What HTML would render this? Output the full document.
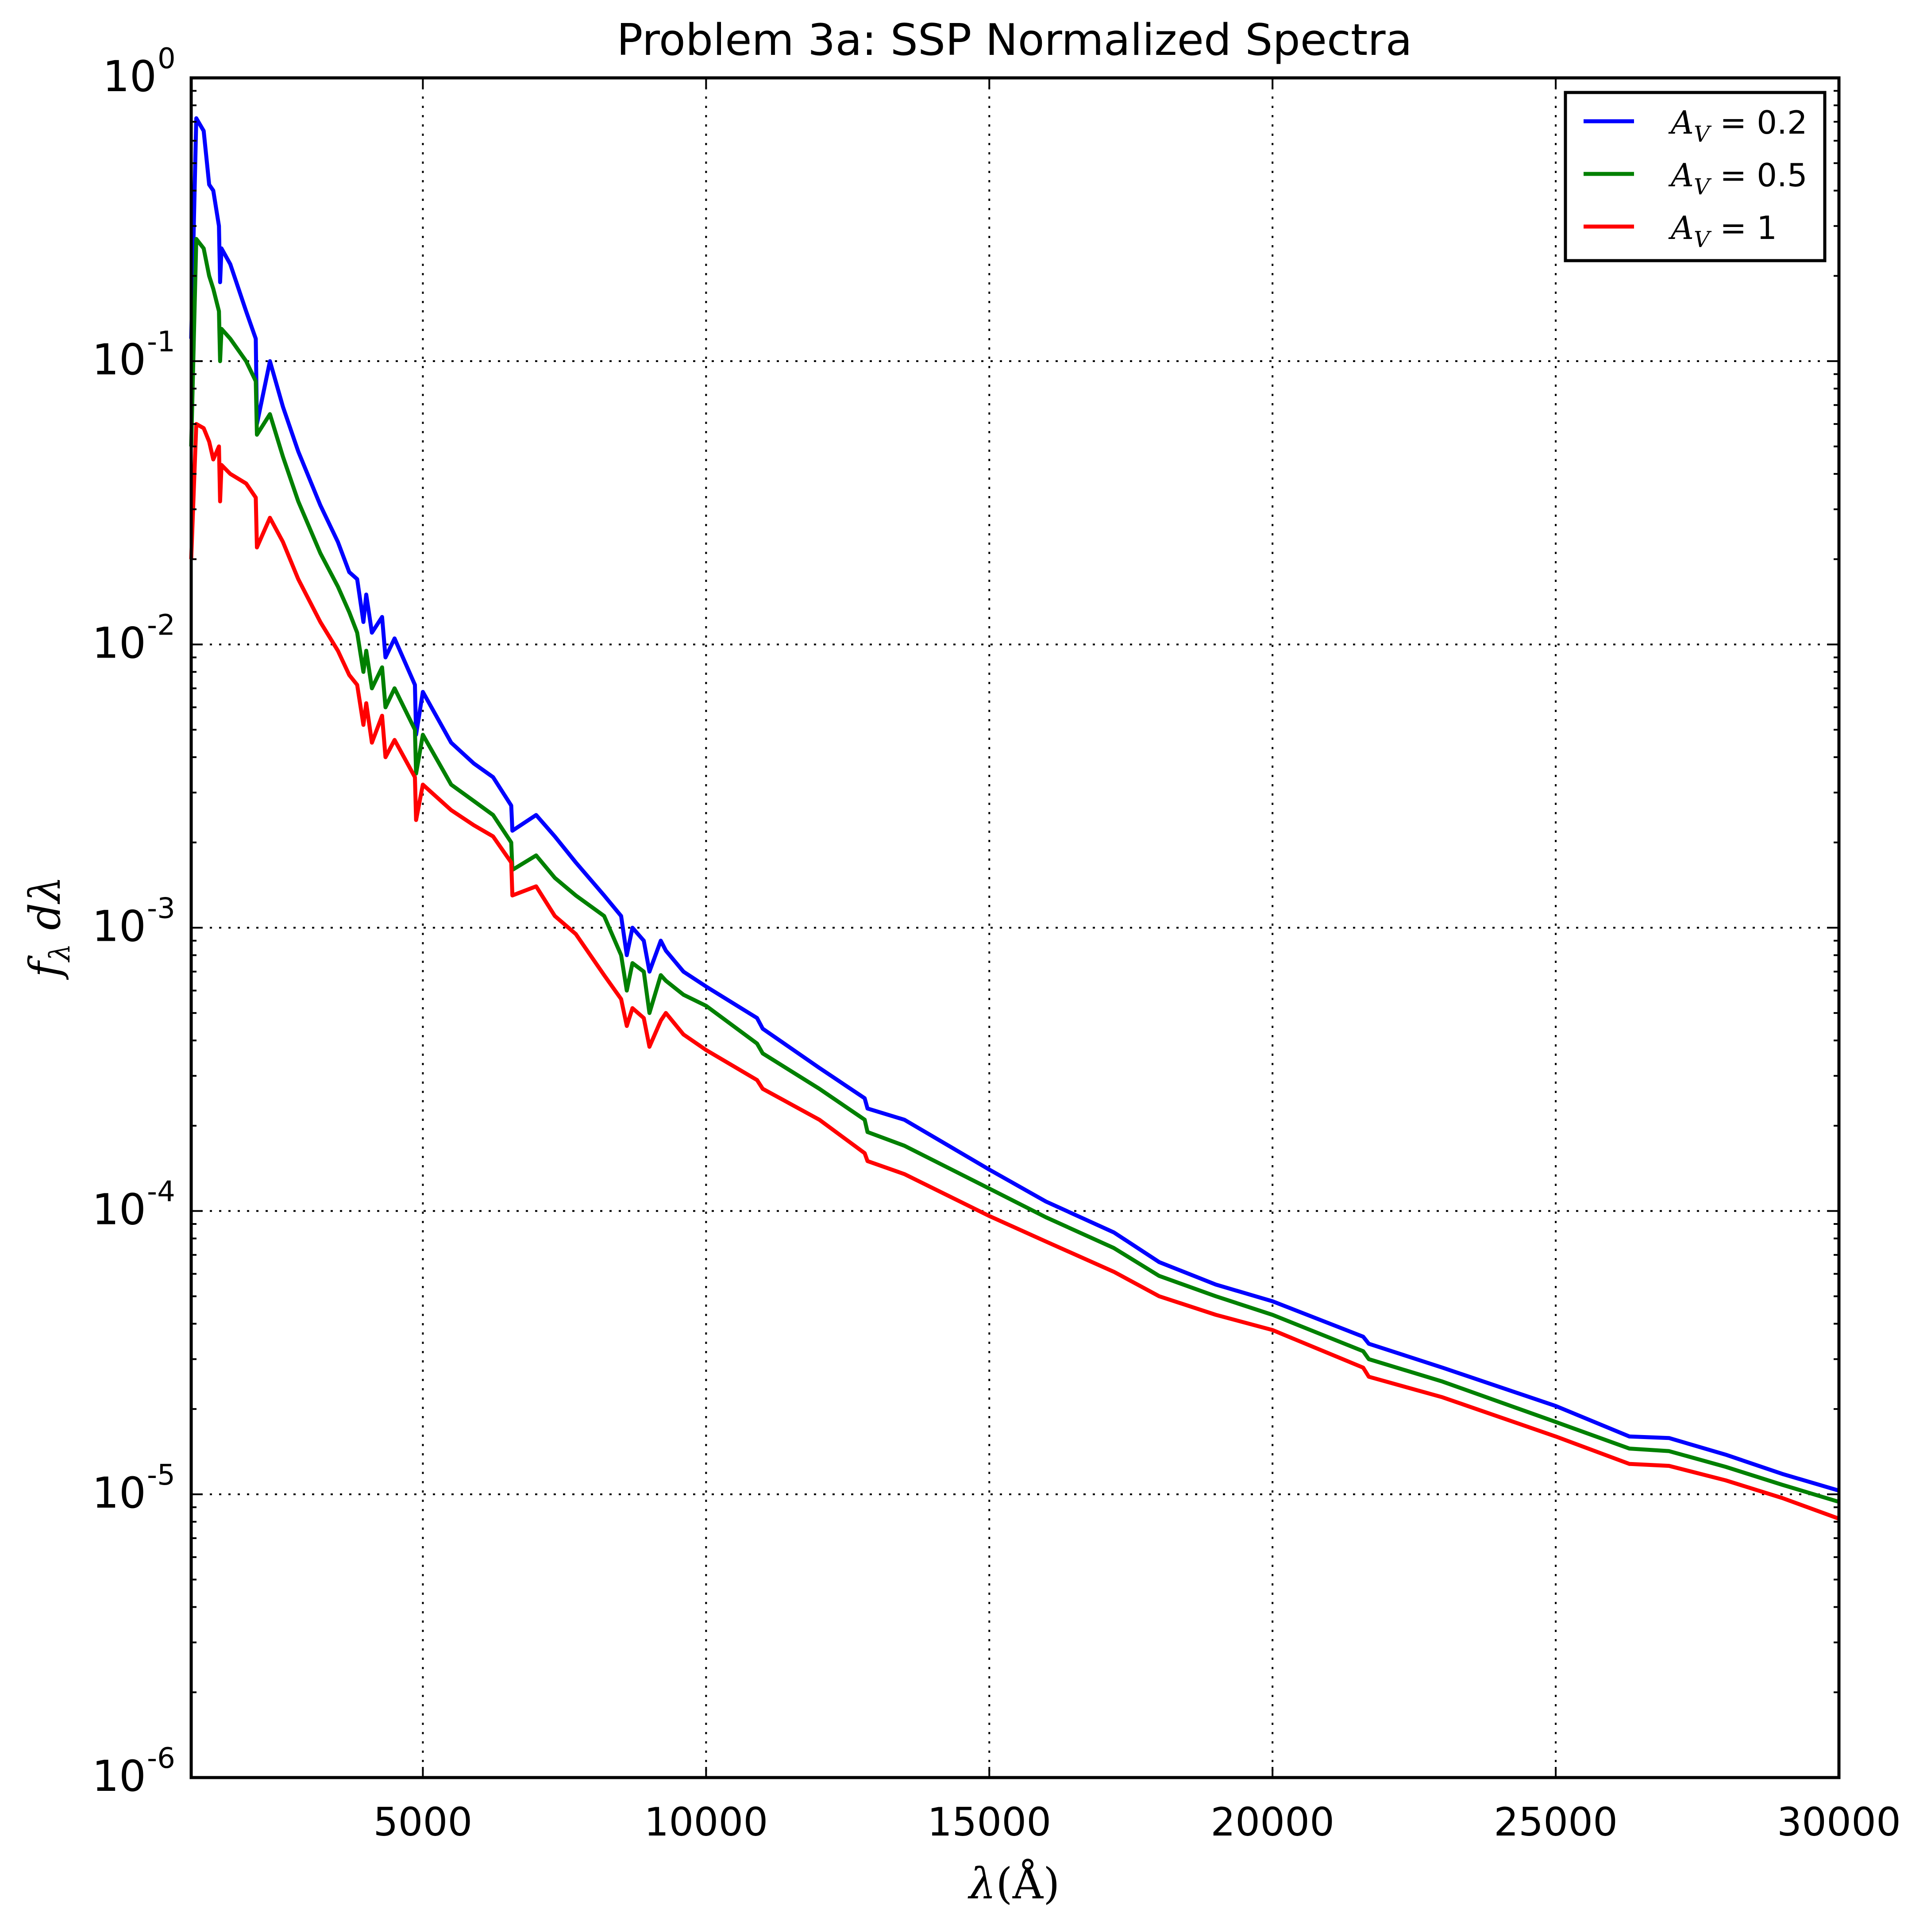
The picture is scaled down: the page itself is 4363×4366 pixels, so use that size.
<!DOCTYPE html>
<html><head><meta charset="utf-8"><style>
html,body{margin:0;padding:0;background:#fff;}
svg{display:block;font-family:"DejaVu Sans","Liberation Sans",sans-serif;}
</style></head><body>
<svg id="chart" width="4363" height="4366" viewBox="0 0 4363 4366" xmlns="http://www.w3.org/2000/svg">
<rect width="4363" height="4366" fill="#fff"/>
<text x="2292" y="124" font-size="98" text-anchor="middle">Problem 3a: SSP Normalized Spectra</text>
<g id="grid"></g>
<g id="series"></g>
<g id="axes"></g>
<text x="2292" y="4290" font-size="96" text-anchor="middle" font-family="'DejaVu Serif','Liberation Serif',serif"><tspan font-style="italic">λ</tspan>(Å)</text>
<text transform="translate(135,2094) rotate(-90)" font-size="96" text-anchor="middle" font-family="'DejaVu Serif','Liberation Serif',serif" font-style="italic">f<tspan font-size="64" dy="22">λ</tspan><tspan dy="-22"> dλ</tspan></text>
<g>
<rect x="3537" y="209" width="586" height="380" fill="#fff" stroke="#000" stroke-width="7"/>
<line x1="3578" y1="274" x2="3692" y2="274" stroke="#0000ff" stroke-width="9"/>
<line x1="3578" y1="393" x2="3692" y2="393" stroke="#008000" stroke-width="9"/>
<line x1="3578" y1="512" x2="3692" y2="512" stroke="#ff0000" stroke-width="9"/>
<text x="3775" y="302" font-size="72"><tspan font-family="'DejaVu Serif',serif" font-style="italic">A</tspan><tspan font-family="'DejaVu Serif',serif" font-style="italic" font-size="50" dy="18">V</tspan><tspan dy="-18"> = 0.2</tspan></text>
<text x="3775" y="421" font-size="72"><tspan font-family="'DejaVu Serif',serif" font-style="italic">A</tspan><tspan font-family="'DejaVu Serif',serif" font-style="italic" font-size="50" dy="18">V</tspan><tspan dy="-18"> = 0.5</tspan></text>
<text x="3775" y="540" font-size="72"><tspan font-family="'DejaVu Serif',serif" font-style="italic">A</tspan><tspan font-family="'DejaVu Serif',serif" font-style="italic" font-size="50" dy="18">V</tspan><tspan dy="-18"> = 1</tspan></text>
</g>
</svg>
<script>
const xTicks = [5000, 10000, 15000, 20000, 25000, 30000];
const yDecades = [0, -1, -2, -3, -4, -5, -6];
const wavelengths = [910,1000,1130,1227,1300,1400,1420,1445,1600,1880,2050,2070,2300,2530,2800,3190,3500,3700,3840,3950,4000,4100,4280,4340,4500,4860,4880,5000,5500,5900,6240,6560,6580,7000,7330,7700,8200,8500,8600,8700,8900,9000,9200,9290,9600,10000,10900,11000,12000,12800,12850,13500,15000,16000,17200,18000,19000,20000,21600,21700,23000,25000,26300,27000,28000,29000,30000];
const fluxAv02 = [0.12,0.72,0.65,0.42,0.40,0.30,0.19,0.25,0.22,0.15,0.12,0.06,0.10,0.069,0.048,0.031,0.023,0.018,0.017,0.012,0.015,0.011,0.0125,0.009,0.0105,0.0072,0.0048,0.0068,0.0045,0.0038,0.0034,0.0027,0.0022,0.0025,0.0021,0.0017,0.0013,0.0011,0.0008,0.001,0.0009,0.0007,0.0009,0.00083,0.0007,0.00062,0.00048,0.00044,0.00032,0.00025,0.00023,0.00021,0.00014,0.000108,0.000084,0.000066,0.000055,0.000048,0.000036,0.000034,0.000028,0.0000205,0.000016,0.0000158,0.0000138,0.0000118,0.0000103];
const fluxAv05 = [0.05,0.27,0.25,0.20,0.18,0.15,0.10,0.13,0.12,0.10,0.085,0.055,0.065,0.046,0.032,0.021,0.016,0.013,0.011,0.008,0.0095,0.007,0.0083,0.006,0.007,0.0050,0.0035,0.0048,0.0032,0.0028,0.0025,0.0020,0.0016,0.0018,0.0015,0.0013,0.0011,0.0008,0.0006,0.00075,0.0007,0.0005,0.00068,0.00065,0.00058,0.00053,0.00039,0.00036,0.00027,0.00021,0.00019,0.00017,0.00012,0.000095,0.000074,0.000059,0.00005,0.000043,0.000032,0.00003,0.000025,0.000018,0.0000145,0.0000142,0.0000125,0.0000108,0.0000094];
const fluxAv1 = [0.02,0.06,0.058,0.052,0.045,0.05,0.032,0.043,0.04,0.037,0.033,0.022,0.028,0.023,0.017,0.012,0.0095,0.0078,0.0072,0.0052,0.0062,0.0045,0.0056,0.004,0.0046,0.0034,0.0024,0.0032,0.0026,0.0023,0.0021,0.0017,0.0013,0.0014,0.0011,0.00095,0.00068,0.00056,0.00045,0.00052,0.00048,0.00038,0.00047,0.0005,0.00042,0.00037,0.00029,0.00027,0.00021,0.00016,0.00015,0.000135,0.000096,0.000078,0.000061,0.00005,0.000043,0.000038,0.000028,0.000026,0.000022,0.000016,0.0000128,0.0000126,0.0000112,0.0000097,0.0000082];
const seriesColors = ["#0000ff", "#008000", "#ff0000"];
const seriesNames = ["series-av02", "series-av05", "series-av1"];

const NS = "http://www.w3.org/2000/svg";
const L = 432, R = 4155, T = 176, B = 4017;
const XMIN = 910, XMAX = 30000, YMIN = -6, YMAX = 0;
function xs(v){ return L + (v - XMIN) / (XMAX - XMIN) * (R - L); }
function ys(v){ return T + (YMAX - Math.log10(v)) / (YMAX - YMIN) * (B - T); }
function yd(d){ return T + (YMAX - d) / (YMAX - YMIN) * (B - T); }
function mk(tag, attrs, parent){ const e = document.createElementNS(NS, tag); for (const k in attrs) e.setAttribute(k, attrs[k]); parent.appendChild(e); return e; }

const grid = document.getElementById('grid');
const axes = document.getElementById('axes');
const series = document.getElementById('series');

xTicks.forEach(t => {
  const x = xs(t);
  if (t < XMAX) {
    const g = mk('line', {x1:x, y1:T, x2:x, y2:B, stroke:'#000', 'stroke-width':4, 'stroke-dasharray':'5 16'}, grid);
    
    
  }
  const tk1 = mk('line', {x1:x, y1:B, x2:x, y2:B-24, stroke:'#000', 'stroke-width':4}, axes);
  
  
  const tk2 = mk('line', {x1:x, y1:T, x2:x, y2:T+24, stroke:'#000', 'stroke-width':4}, axes);
  
  
  const lb = mk('text', {x:x, y:4148, 'font-size':88, 'text-anchor':'middle'}, axes);
  lb.textContent = String(t);
  
  
});

yDecades.forEach(d => {
  const y = yd(d);
  if (d < 0 && d > -6) {
    const g = mk('line', {x1:L, y1:y, x2:R, y2:y, stroke:'#000', 'stroke-width':4, 'stroke-dasharray':'5 16'}, grid);
    
    
  }
  [[L, L+24], [R, R-24]].forEach(p => {
    const tk = mk('line', {x1:p[0], y1:y, x2:p[1], y2:y, stroke:'#000', 'stroke-width':4}, axes);
    
    
  });
  if (d > -6) {
    for (let m = 2; m <= 9; m++) {
      const ym = yd(d - 1 + Math.log10(m));
      [[L, L+12], [R, R-12]].forEach(p => {
        const mt = mk('line', {x1:p[0], y1:ym, x2:p[1], y2:ym, stroke:'#000', 'stroke-width':4}, axes);
        
        
      });
    }
  }
  const lb = mk('text', {x: d === 0 ? 354 : 330, y: y + 30, 'font-size':96, 'text-anchor':'end'}, axes);
  lb.textContent = '10';
  
  
  const sp = mk('text', {x: d === 0 ? 356 : 332, y: y - 22, 'font-size':64, 'text-anchor':'start'}, axes);
  sp.textContent = d === 0 ? '0' : '-' + (-d);
  
  
});

[fluxAv02, fluxAv05, fluxAv1].forEach((arr, i) => {
  const d = arr.map((v, j) => (j ? 'L' : 'M') + xs(wavelengths[j]).toFixed(1) + ' ' + ys(v).toFixed(1)).join(' ');
  const p = mk('path', {d:d, fill:'none', stroke:seriesColors[i], 'stroke-width':9, 'stroke-linejoin':'round'}, series);
  
  
});

const frame = mk('rect', {x:L, y:T, width:R-L, height:B-T, fill:'none', stroke:'#000', 'stroke-width':7}, axes);


</script>
</body></html>
